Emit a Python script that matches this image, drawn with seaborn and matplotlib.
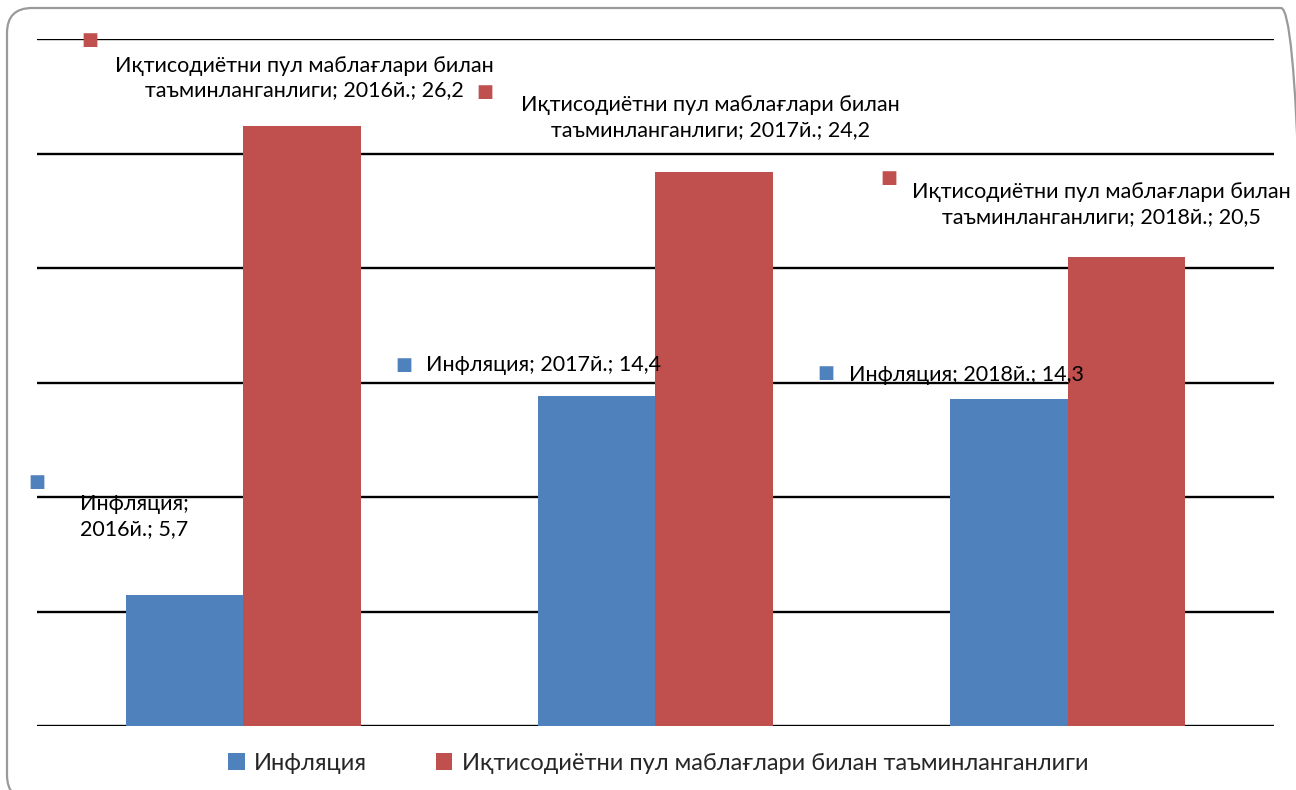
import numpy as np
import pandas as pd
import matplotlib
matplotlib.use("Agg")
import matplotlib.pyplot as plt
from matplotlib.patches import FancyBboxPatch
import seaborn as sns

# data
years = ["2016й.", "2017й.", "2018й."]
inflation = [5.7, 14.4, 14.3]
money_supply = [26.2, 24.2, 20.5]
series_names = ["Инфляция", "Иқтисодиётни пул маблағлари билан таъминланганлиги"]
label_names = ["Инфляция", "Иқтисодиётни пул маблағлари билан\nтаъминланганлиги"]
colors = ["#4F81BD", "#C0504D"]

df = pd.DataFrame({
    "year": years * 2,
    "value": inflation + money_supply,
    "series": [series_names[0]] * 3 + [series_names[1]] * 3,
})

sns.set_style("white")
plt.rcParams["font.family"] = ["Lato", "Noto Sans", "DejaVu Sans"]

fig = plt.figure(figsize=(12.96, 7.9), dpi=100)
ax = fig.add_axes([0.0285, 0.081, 0.9545, 0.8696])

sns.barplot(data=df, x="year", y="value", hue="series", palette=colors,
            width=0.57, saturation=1, linewidth=0, ax=ax, zorder=3)

ax.set_ylim(0, 30)
ax.set_xlim(-0.5, 2.5)
ax.set_yticks(np.arange(0, 31, 5))
ax.yaxis.grid(True, color="black", lw=1.7, zorder=0)
ax.set_axisbelow(True)
ax.tick_params(left=False, bottom=False, labelleft=False, labelbottom=False)
ax.set_xlabel("")
ax.set_ylabel("")
for s in ax.spines.values():
    s.set_visible(False)

# data labels (text offset, marker offset) in pixels from bar top
text_off = [[(-50, 79), (-53, 31), (-43, 24)],
            [(3, 48), (-4, 54), (-25, 52)]]
mark_off = [[(-147, 113), (-193, 31), (-183, 26)],
            [(-212, 86), (-229, 80), (-238, 79)]]
for k, cont in enumerate(ax.containers):
    for j, bar in enumerate(cont):
        bx = bar.get_x() + bar.get_width() / 2
        by = bar.get_height()
        val = str(by).replace(".", ",")
        if k == 0 and j == 0:
            txt = f"{label_names[0]};\n{years[j]}; {val}"
        else:
            txt = f"{label_names[k]}; {years[j]}; {val}"
        ax.annotate(txt, xy=(bx, by), xytext=text_off[k][j], textcoords="offset pixels",
                    ha="center", va="center", fontsize=15.5, linespacing=1.3,
                    color="black", zorder=5, annotation_clip=False)
        ax.annotate("■", xy=(bx, by), xytext=mark_off[k][j], textcoords="offset pixels",
                    ha="center", va="center", fontsize=13, color=colors[k],
                    family="DejaVu Sans", zorder=5, annotation_clip=False)

sns.move_legend(ax, "center", bbox_to_anchor=(0.508, 0.034), bbox_transform=fig.transFigure,
                ncol=2, frameon=False, title=None, fontsize=17,
                handlelength=0.7, handleheight=0.7, handletextpad=0.4, columnspacing=2.9)

# rounded outer border
border = FancyBboxPatch((0.07, -0.1), 12.99, 7.92, boxstyle="round,pad=0,rounding_size=0.25",
                        transform=fig.dpi_scale_trans, facecolor="none",
                        edgecolor="#9a9a9a", lw=1.6, clip_on=False)
fig.patches.append(border)

fig.savefig("out.png", dpi=100)
